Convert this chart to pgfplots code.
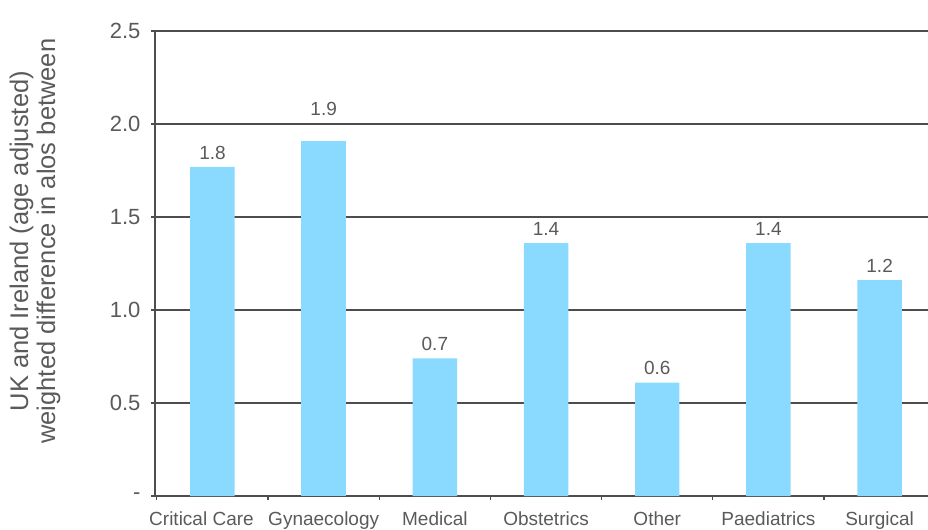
\documentclass[border=0pt]{standalone}
\usepackage{pgfplots}
\pgfplotsset{compat=1.18}
\usepackage{fontspec}
\setmainfont{Liberation Sans}
\definecolor{barblue}{HTML}{8AD9FF}
\definecolor{txtgray}{HTML}{5A5A5A}
\definecolor{gridgray}{HTML}{4D4D4D}
\pgfplotsset{/pgf/number format/assume math mode=true}
\begin{document}
\begin{tikzpicture}
\begin{axis}[
  at={(0,0)}, anchor=south west,
  scale only axis, width=773bp, height=465bp,
  xmin=-0.517, xmax=6.435, ymin=0, ymax=2.5,
  axis x line*=bottom, axis y line*=left,
  axis line style={gridgray, line width=1.4bp},
  ybar, bar width=0.4,
  ytick={0,0.5,1,1.5,2,2.5},
  yticklabels={-,0.5,1.0,1.5,2.0,2.5},
  ymajorgrids,
  major grid style={gridgray, line width=1.4bp},
  xtick={0,...,6},
  xticklabels={Critical Care\rule{22bp}{0pt},Gynaecology,Medical,Obstetrics,Other,Paediatrics,Surgical},
  minor xtick={-0.5,0.5,1.5,2.5,3.5,4.5,5.5},
  major x tick style={draw=none},
  minor x tick style={gridgray, line width=1.2bp},
  y tick style={gridgray, line width=1.2bp},
  tick align=outside,
  major tick length=4bp, minor tick length=4bp,
  yticklabel style={font=\fontsize{22bp}{24bp}\selectfont, text=txtgray, xshift=-7bp},
  xticklabel style={font=\fontsize{19bp}{22bp}\selectfont, text=txtgray, yshift=-8bp},
  ylabel={UK and Ireland (age adjusted)\\weighted difference in alos between},
  ylabel style={at={(rel axis cs:0,0.548)}, anchor=center,
    yshift=120bp, align=center, text=txtgray,
    font=\fontsize{25.5bp}{27bp}\selectfont},
  nodes near coords={\pgfmathprintnumber[fixed,precision=1,fixed zerofill]{\pgfplotspointmeta}},
  nodes near coords style={font=\fontsize{19bp}{21bp}\selectfont, text=txtgray, yshift=4bp},
  clip=false,
]
% Difference in average length of stay by specialty
\addplot[fill=barblue, draw=none, bar shift=0] coordinates {
  (0,1.77) (2,0.74) (3,1.36) (4,0.61) (5,1.36) (6,1.16)
};
% Gynaecology: its label sits above the 2.0 gridline
\addplot[fill=barblue, draw=none, bar shift=0,
  every node near coord/.append style={yshift=18bp}] coordinates {
  (1,1.91)
};
\end{axis}
\pgfresetboundingbox
\useasboundingbox (-155bp,-34bp) rectangle (773bp,496bp);
\end{tikzpicture}
\end{document}
